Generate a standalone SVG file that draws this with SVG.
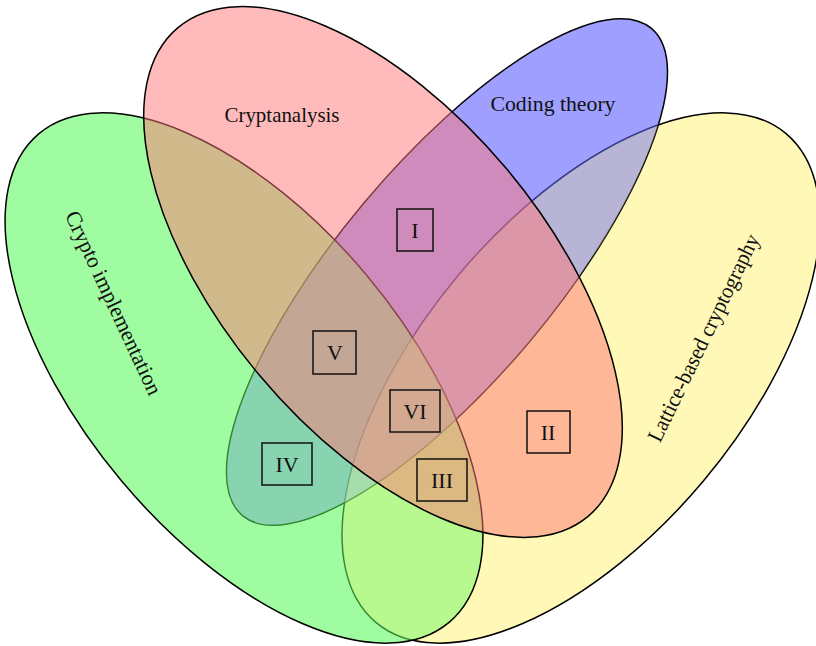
<svg xmlns="http://www.w3.org/2000/svg" width="816" height="646" viewBox="0 0 816 646">
<style>
  .set { stroke: #000; stroke-width: 1.5; fill-opacity: 0.5; }
  .lbl { font-family: "Liberation Serif", "Times New Roman", serif; font-size: 22px; fill: #111; text-anchor: middle; }
  .box { fill: none; stroke: #111; stroke-width: 1.5; }
</style>
<defs>
  <clipPath id="cG"><ellipse cx="244" cy="378" rx="319" ry="160" transform="rotate(50 244 378)"/></clipPath>
  <clipPath id="cY"><ellipse cx="581" cy="378" rx="319" ry="160" transform="rotate(-50 581 378)"/></clipPath>
</defs>
<rect width="816" height="646" fill="#fff"/>
<g id="lattice">
  <ellipse class="set" cx="581" cy="378" rx="319" ry="160" transform="rotate(-50 581 378)" fill="#fff16f"/>
  <text class="lbl" transform="translate(710,341) rotate(-64)" textLength="228" lengthAdjust="spacingAndGlyphs">Lattice-based cryptography</text>
</g>
<g id="coding">
  <ellipse class="set" cx="447" cy="272" rx="318" ry="108" transform="rotate(-50 447 272)" fill="#3f3fff"/>
  <text class="lbl" x="553" y="111" textLength="125" lengthAdjust="spacingAndGlyphs">Coding theory</text>
</g>
<g id="implementation">
  <ellipse class="set" cx="244" cy="378" rx="319" ry="160" transform="rotate(50 244 378)" fill="#41f941"/>
  <text class="lbl" transform="translate(107,306) rotate(65)" textLength="200" lengthAdjust="spacingAndGlyphs">Crypto implementation</text>
</g>
<g id="overlap-shading">
  <g clip-path="url(#cG)"><ellipse cx="447" cy="272" rx="318" ry="108" transform="rotate(-50 447 272)" fill="#fff" opacity="0.17"/></g>
  <g clip-path="url(#cY)" opacity="0.25">
    <ellipse cx="447" cy="272" rx="318" ry="108" transform="rotate(-50 447 272)" fill="#fffac8"/>
    <ellipse cx="244" cy="378" rx="318" ry="159" transform="rotate(50 244 378)" fill="#fffac8"/>
  </g>
</g>
<g id="cryptanalysis">
  <ellipse class="set" cx="383" cy="272" rx="319" ry="161" transform="rotate(50 383 272)" fill="#ff7777"/>
  <text class="lbl" x="282" y="122" textLength="115" lengthAdjust="spacingAndGlyphs">Cryptanalysis</text>
</g>
<g id="region-I"><rect class="box" x="397" y="209" width="36" height="42"/><text class="lbl" x="415" y="238">I</text></g>
<g id="region-V"><rect class="box" x="313" y="331" width="43" height="43"/><text class="lbl" x="335" y="360">V</text></g>
<g id="region-VI"><rect class="box" x="390" y="390" width="50" height="42"/><text class="lbl" x="415" y="419">VI</text></g>
<g id="region-IV"><rect class="box" x="262" y="443" width="50" height="42"/><text class="lbl" x="287" y="472">IV</text></g>
<g id="region-III"><rect class="box" x="417" y="459" width="50" height="42"/><text class="lbl" x="442" y="488">III</text></g>
<g id="region-II"><rect class="box" x="527" y="411" width="43" height="42"/><text class="lbl" x="548" y="440">II</text></g>
<g id="connectors"></g>
</svg>
